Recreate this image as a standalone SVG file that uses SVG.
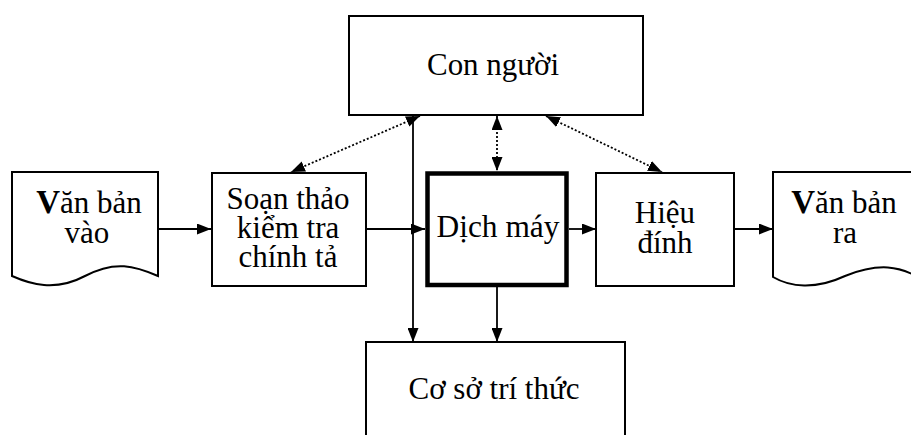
<svg xmlns="http://www.w3.org/2000/svg" width="911" height="435" viewBox="0 0 911 435">
<style>
.box{fill:#fff;stroke:#000;stroke-width:2}
.thick{fill:#fff;stroke:#000;stroke-width:4.5}
.t{font-family:'Liberation Serif','Times New Roman',serif;font-size:31px;fill:#000;text-anchor:middle}
.b{font-weight:bold;font-size:33px}
.ln{fill:none;stroke:#000;stroke-width:1.8}
.dot{fill:none;stroke:#000;stroke-width:1.8;stroke-dasharray:2,2}
</style>
<defs>
<marker id="ah" markerUnits="userSpaceOnUse" markerWidth="14" markerHeight="11" refX="14" refY="5.5" orient="auto-start-reverse" viewBox="0 0 14 11">
<path d="M0,0 L14,5.5 L0,11 z" fill="#000"/>
</marker>
</defs>
<rect width="911" height="435" fill="#fff"/>
<g id="con-nguoi">
<rect class="box" x="349" y="16" width="294" height="99"/>
<text class="t" x="493" y="75" textLength="132" lengthAdjust="spacingAndGlyphs">Con người</text>
</g>
<g id="van-ban-vao">
<path class="box" d="M12,276 L12,172 L158,172 L158,276 C135,266 115,260 85,276 C55,292 30,284 12,276 Z"/>
<text class="t" x="89" y="213"><tspan class="b">V</tspan>ăn bản</text>
<text class="t" x="87" y="243">vào</text>
</g>
<g id="soan-thao">
<rect class="box" x="212" y="173" width="154" height="113"/>
<text class="t" x="288" y="209">Soạn thảo</text>
<text class="t" x="288" y="238">kiểm tra</text>
<text class="t" x="288" y="267">chính tả</text>
</g>
<g id="dich-may">
<rect class="thick" x="427.5" y="173.5" width="139" height="111.5"/>
<text class="t" x="498" y="237" textLength="123" lengthAdjust="spacingAndGlyphs">Dịch máy</text>
</g>
<g id="hieu-dinh">
<rect class="box" x="596" y="173" width="138" height="113"/>
<text class="t" x="665" y="223">Hiệu</text>
<text class="t" x="665" y="253">đính</text>
</g>
<g id="van-ban-ra">
<path class="box" d="M773,277 L773,172 L918,172 L918,277 C900,267 880,262 845,276 C815,290 790,287 773,277 Z"/>
<text class="t" x="844" y="213"><tspan class="b">V</tspan>ăn bản</text>
<text class="t" x="845" y="243">ra</text>
</g>
<g id="co-so-tri-thuc">
<rect class="box" x="366" y="342" width="259" height="110"/>
<text class="t" x="494" y="399" textLength="171" lengthAdjust="spacingAndGlyphs">Cơ sở trí thức</text>
</g>
<g id="connectors">
<line class="ln" x1="158" y1="229" x2="211" y2="229" marker-end="url(#ah)"/>
<line class="ln" x1="366" y1="229" x2="425" y2="229" marker-end="url(#ah)"/>
<line class="ln" x1="569" y1="229" x2="596" y2="229" marker-end="url(#ah)"/>
<line class="ln" x1="734" y1="229" x2="773" y2="229" marker-end="url(#ah)"/>
<line class="ln" x1="413" y1="115" x2="413" y2="342" marker-end="url(#ah)"/>
<line class="ln" x1="497" y1="287" x2="497" y2="342" marker-end="url(#ah)"/>
<line class="dot" x1="420" y1="116" x2="291" y2="172" marker-start="url(#ah)" marker-end="url(#ah)"/>
<line class="dot" x1="497" y1="116" x2="497" y2="171" marker-start="url(#ah)" marker-end="url(#ah)"/>
<line class="dot" x1="546" y1="116" x2="662" y2="172" marker-start="url(#ah)" marker-end="url(#ah)"/>
</g>
</svg>
